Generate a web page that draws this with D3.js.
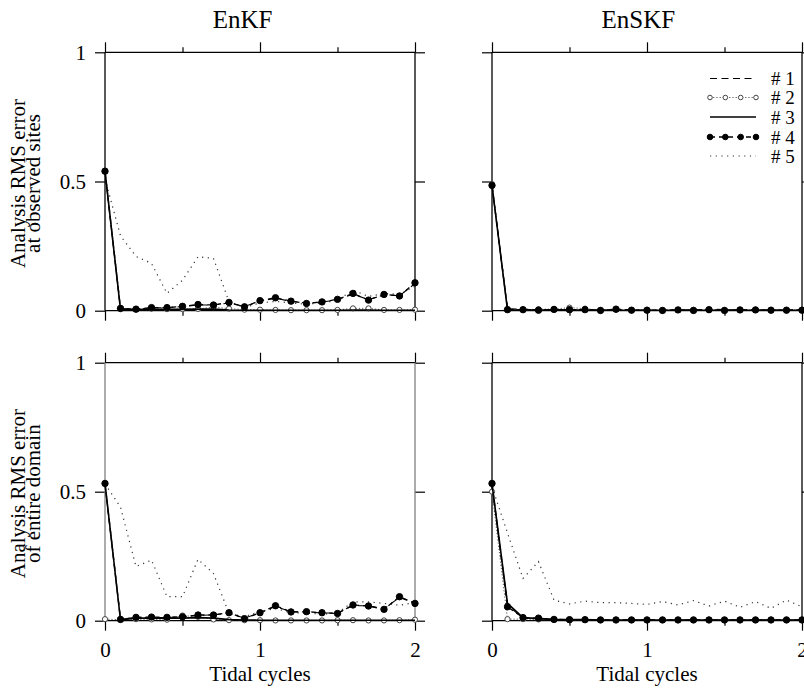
<!DOCTYPE html>
<html>
<head>
<meta charset="utf-8">
<script src="https://cdn.jsdelivr.net/npm/d3@7"></script>
<style>
  body { margin: 0; background: #fff; }
</style>
</head>
<body>
<svg id="chart" width="804" height="691"></svg>
<script>
// tidal cycles (x values)
var cycles = [0, 0.1, 0.2, 0.3, 0.4, 0.5, 0.6, 0.7, 0.8, 0.9, 1.0,
              1.1, 1.2, 1.3, 1.4, 1.5, 1.6, 1.7, 1.8, 1.9, 2.0];

var seriesNames = ['# 1', '# 2', '# 3', '# 4', '# 5'];
var colTitles = ['EnKF', 'EnSKF'];
var rowLabels = [['Analysis RMS error', 'at observed sites'],
                 ['Analysis RMS error', 'of entire domain']];
var xTicks = [0, 1, 2];
var xMinorTicks = [0.5, 1.5];
var yTicks = [0, 0.5, 1];

// EnKF, observed sites
var enkfObs1 = [0.54, 0.008, 0.006, 0.011, 0.012, 0.016, 0.022, 0.022, 0.030, 0.016, 0.037, 0.048, 0.036, 0.030, 0.033, 0.043, 0.064, 0.043, 0.061, 0.058, 0.105];
var enkfObs2 = [0.54, 0.006, 0.005, 0.008, 0.006, 0.006, 0.007, 0.014, 0.008, 0.004, 0.004, 0.003, 0.002, 0.002, 0.002, 0.003, 0.009, 0.009, 0.003, 0.003, 0.004];
var enkfObs3 = [0.54, 0.004, 0.004, 0.005, 0.005, 0.005, 0.006, 0.006, 0.003, 0.002, 0.002, 0.002, 0.002, 0.002, 0.002, 0.002, 0.003, 0.003, 0.002, 0.002, 0.002];
var enkfObs4 = [0.54, 0.009, 0.006, 0.012, 0.012, 0.017, 0.024, 0.022, 0.032, 0.015, 0.039, 0.050, 0.037, 0.028, 0.034, 0.044, 0.067, 0.041, 0.063, 0.057, 0.108];
var enkfObs5 = [0.51, 0.29, 0.21, 0.183, 0.067, 0.118, 0.209, 0.202, 0.035, 0.012, 0.030, 0.036, 0.030, 0.025, 0.030, 0.040, 0.080, 0.055, 0.067, 0.063, 0.095];

// EnSKF, observed sites
var enskfObs1 = [0.485, 0.008, 0.006, 0.004, 0.005, 0.004, 0.005, 0.003, 0.003, 0.003, 0.002, 0.002, 0.003, 0.004, 0.006, 0.004, 0.003, 0.004, 0.003, 0.003, 0.004];
var enskfObs2 = [0.49, 0.006, 0.004, 0.006, 0.006, 0.012, 0.008, 0.002, 0.004, 0.002, 0.002, 0.002, 0.003, 0.003, 0.003, 0.002, 0.003, 0.004, 0.003, 0.002, 0.003];
var enskfObs3 = [0.485, 0.003, 0.003, 0.003, 0.003, 0.003, 0.003, 0.002, 0.002, 0.002, 0.002, 0.002, 0.002, 0.002, 0.002, 0.002, 0.002, 0.002, 0.002, 0.002, 0.002];
var enskfObs4 = [0.485, 0.004, 0.004, 0.002, 0.005, 0.004, 0.004, 0.001, 0.006, 0.002, 0.002, 0.001, 0.003, 0.001, 0.004, 0.001, 0.003, 0.003, 0.002, 0.002, 0.002];
var enskfObs5 = [0.49, 0.006, 0.004, 0.004, 0.004, 0.004, 0.003, 0.003, 0.003, 0.003, 0.003, 0.003, 0.003, 0.003, 0.003, 0.003, 0.003, 0.003, 0.003, 0.003, 0.003];

// EnKF, entire domain
var enkfDom1 = [0.53, 0.006, 0.012, 0.013, 0.012, 0.016, 0.020, 0.023, 0.029, 0.010, 0.030, 0.055, 0.035, 0.033, 0.030, 0.030, 0.058, 0.058, 0.046, 0.090, 0.068];
var enkfDom2 = [0.006, 0.004, 0.006, 0.005, 0.004, 0.020, 0.015, 0.005, 0.002, 0.002, 0.002, 0.001, 0.001, 0.001, 0.001, 0.002, 0.002, 0.001, 0.001, 0.002, 0.004];
var enkfDom3 = [0.532, 0.003, 0.010, 0.010, 0.010, 0.010, 0.012, 0.010, 0.004, 0.003, 0.002, 0.002, 0.002, 0.002, 0.002, 0.002, 0.002, 0.002, 0.002, 0.002, 0.002];
var enkfDom4 = [0.532, 0.005, 0.013, 0.014, 0.013, 0.015, 0.022, 0.022, 0.031, 0.008, 0.031, 0.058, 0.034, 0.035, 0.031, 0.028, 0.061, 0.057, 0.044, 0.093, 0.067];
var enkfDom5 = [0.53, 0.44, 0.21, 0.235, 0.093, 0.093, 0.238, 0.183, 0.028, 0.016, 0.035, 0.048, 0.030, 0.030, 0.025, 0.030, 0.073, 0.073, 0.067, 0.060, 0.070];

// EnSKF, entire domain
var enskfDom1 = [0.52, 0.060, 0.010, 0.008, 0.005, 0.004, 0.004, 0.003, 0.003, 0.003, 0.003, 0.003, 0.003, 0.003, 0.003, 0.003, 0.003, 0.003, 0.003, 0.003, 0.003];
var enskfDom2 = [0.50, 0.006, 0.006, 0.005, 0.004, 0.004, 0.003, 0.003, 0.003, 0.003, 0.003, 0.003, 0.003, 0.003, 0.003, 0.003, 0.003, 0.003, 0.003, 0.003, 0.003];
var enskfDom3 = [0.53, 0.067, 0.012, 0.008, 0.005, 0.004, 0.004, 0.003, 0.003, 0.003, 0.003, 0.003, 0.003, 0.003, 0.003, 0.003, 0.003, 0.003, 0.003, 0.003, 0.003];
var enskfDom4 = [0.532, 0.054, 0.012, 0.010, 0.005, 0.004, 0.004, 0.003, 0.003, 0.003, 0.003, 0.003, 0.003, 0.003, 0.003, 0.003, 0.003, 0.003, 0.003, 0.003, 0.003];
var enskfDom5 = [0.52, 0.34, 0.164, 0.229, 0.080, 0.065, 0.076, 0.070, 0.070, 0.067, 0.063, 0.074, 0.061, 0.078, 0.057, 0.076, 0.052, 0.074, 0.048, 0.080, 0.054];

var panelData = [
    [[enkfObs1, enkfObs2, enkfObs3, enkfObs4, enkfObs5],
     [enskfObs1, enskfObs2, enskfObs3, enskfObs4, enskfObs5]],
    [[enkfDom1, enkfDom2, enkfDom3, enkfDom4, enkfDom5],
     [enskfDom1, enskfDom2, enskfDom3, enskfDom4, enskfDom5]]
];

// line styles for # 1 .. # 5
var styles = [
    {dash: '7,4.5', width: 1.1, color: '#000', marker: null},
    {dash: '1.2,2', width: 1, color: '#555', marker: 'open'},
    {dash: null, width: 1.6, color: '#000', marker: null},
    {dash: '5,4', width: 1.3, color: '#000', marker: 'filled'},
    {dash: '1.2,4.5', width: 1.2, color: '#333', marker: null}
];

var serif = 'Liberation Serif';
var svg = d3.select('#chart');

var colRange = [[105, 415], [492, 802]];
var rowRange = [[310.7, 52.3], [620.7, 362.7]];
var titleX = [242.5, 638.3];

function drawPanel(row, col) {
    var x = d3.scaleLinear().domain([0, 2]).range(colRange[col]);
    var y = d3.scaleLinear().domain([0, 1]).range(rowRange[row]);
    var g = svg.append('g').attr('class', 'panel');
    var top = y(1), bottom = y(0), left = x(0), right = x(2);

    // ticks (outward)
    g.append('g').attr('transform', 'translate(0,' + bottom + ')')
        .call(d3.axisBottom(x).tickValues(xTicks).tickSize(10).tickPadding(11)
            .tickFormat(row == 1 ? d3.format('d') : ''));
    g.append('g').attr('transform', 'translate(0,' + bottom + ')')
        .call(d3.axisBottom(x).tickValues(xMinorTicks).tickSize(5).tickFormat(''));
    g.append('g').attr('transform', 'translate(0,' + top + ')')
        .call(d3.axisTop(x).tickValues(xTicks).tickSize(10).tickFormat(''));
    g.append('g').attr('transform', 'translate(0,' + top + ')')
        .call(d3.axisTop(x).tickValues(xMinorTicks).tickSize(5).tickFormat(''));
    g.append('g').attr('transform', 'translate(' + left + ',0)')
        .call(d3.axisLeft(y).tickValues(yTicks).tickSize(10).tickPadding(9)
            .tickFormat(col == 0 ? function (d) { return d === 0.5 ? '0.5' : d3.format('d')(d); } : ''));
    g.append('g').attr('transform', 'translate(' + right + ',0)')
        .call(d3.axisRight(y).tickValues(yTicks).tickSize(10).tickFormat(''));

    g.selectAll('.domain').remove();
    g.selectAll('.tick line').attr('stroke', '#000').attr('stroke-width', 1.2);
    g.selectAll('g').attr('font-family', serif).attr('font-size', 21);
    g.selectAll('.tick text').attr('fill', '#000');

    // frame
    var sideColor = (row == 1 && col == 0) ? '#808080' : '#000';
    g.append('line').attr('x1', left).attr('x2', right).attr('y1', top).attr('y2', top)
        .attr('stroke', '#000').attr('stroke-width', 1.3);
    g.append('line').attr('x1', left).attr('x2', right).attr('y1', bottom).attr('y2', bottom)
        .attr('stroke', '#000').attr('stroke-width', 1.3);
    g.append('line').attr('x1', left).attr('x2', left).attr('y1', top).attr('y2', bottom)
        .attr('stroke', sideColor).attr('stroke-width', 1.3);
    g.append('line').attr('x1', right).attr('x2', right).attr('y1', top).attr('y2', bottom)
        .attr('stroke', sideColor).attr('stroke-width', 1.3);

    // series, # 5 first so the marked ones sit on top
    var order = [4, 0, 1, 2, 3];
    order.forEach(function (s) {
        var vals = panelData[row][col][s];
        var st = styles[s];
        var pts = cycles.map(function (c, i) { return [c, vals[i]]; });
        var line = d3.line().x(function (d) { return x(d[0]); }).y(function (d) { return y(d[1]); });
        g.append('path')
            .datum(pts)
            .attr('d', line)
            .attr('fill', 'none')
            .attr('stroke', st.color)
            .attr('stroke-width', st.width)
            .attr('stroke-dasharray', st.dash);
        if (st.marker) {
            g.selectAll('circle.m' + s)
                .data(pts)
                .enter()
                .append('circle')
                .attr('class', 'm' + s)
                .attr('cx', function (d) { return x(d[0]); })
                .attr('cy', function (d) { return y(d[1]); })
                .attr('r', st.marker == 'filled' ? 3.2 : 2.6)
                .attr('fill', st.marker == 'filled' ? '#000' : '#fff')
                .attr('stroke', st.marker == 'filled' ? '#000' : '#444')
                .attr('stroke-width', 1);
        }
    });

    // column titles / axis labels
    if (row == 0) {
        svg.append('text')
            .attr('x', titleX[col]).attr('y', 28)
            .attr('text-anchor', 'middle')
            .attr('font-family', serif)
            .attr('font-size', 25)
            .text(colTitles[col]);
    }
    if (row == 1) {
        svg.append('text')
            .attr('x', (left + right) / 2).attr('y', 681)
            .attr('text-anchor', 'middle')
            .attr('font-family', serif)
            .attr('font-size', 21)
            .text('Tidal cycles');
    }
    if (col == 0) {
        var cy = (top + bottom) / 2 + 2;
        rowLabels[row].forEach(function (t, i) {
            svg.append('text')
                .attr('transform', 'translate(' + (25 + i * 15) + ',' + cy + ') rotate(-90)')
                .attr('text-anchor', 'middle')
                .attr('font-family', serif)
                .attr('font-size', 21)
                .text(t);
        });
    }
}

[0, 1].forEach(function (r) {
    [0, 1].forEach(function (c) { drawPanel(r, c); });
});

// legend in the EnSKF observed-sites panel
var legRows = [78.5, 97.5, 117, 137, 156];
var legend = svg.append('g').attr('class', 'legend');
seriesNames.forEach(function (name, s) {
    var st = styles[s];
    var ly = legRows[s];
    var lx = d3.scaleLinear().domain([0, 3]).range([710, 756]);
    legend.append('line')
        .attr('x1', lx(0)).attr('x2', lx(3)).attr('y1', ly).attr('y2', ly)
        .attr('stroke', st.color)
        .attr('stroke-width', st.width)
        .attr('stroke-dasharray', st.dash);
    if (st.marker) {
        legend.selectAll('circle.l' + s)
            .data([0, 1, 2, 3])
            .enter()
            .append('circle')
            .attr('cx', function (d) { return lx(d); })
            .attr('cy', ly)
            .attr('r', st.marker == 'filled' ? 2.8 : 2.3)
            .attr('fill', st.marker == 'filled' ? '#000' : '#fff')
            .attr('stroke', st.marker == 'filled' ? '#000' : '#444')
            .attr('stroke-width', 1);
    }
    legend.append('text')
        .attr('x', 771).attr('y', ly + 6.5)
        .attr('font-family', serif)
        .attr('font-size', 19)
        .text(name);
});
</script>
</body>
</html>
